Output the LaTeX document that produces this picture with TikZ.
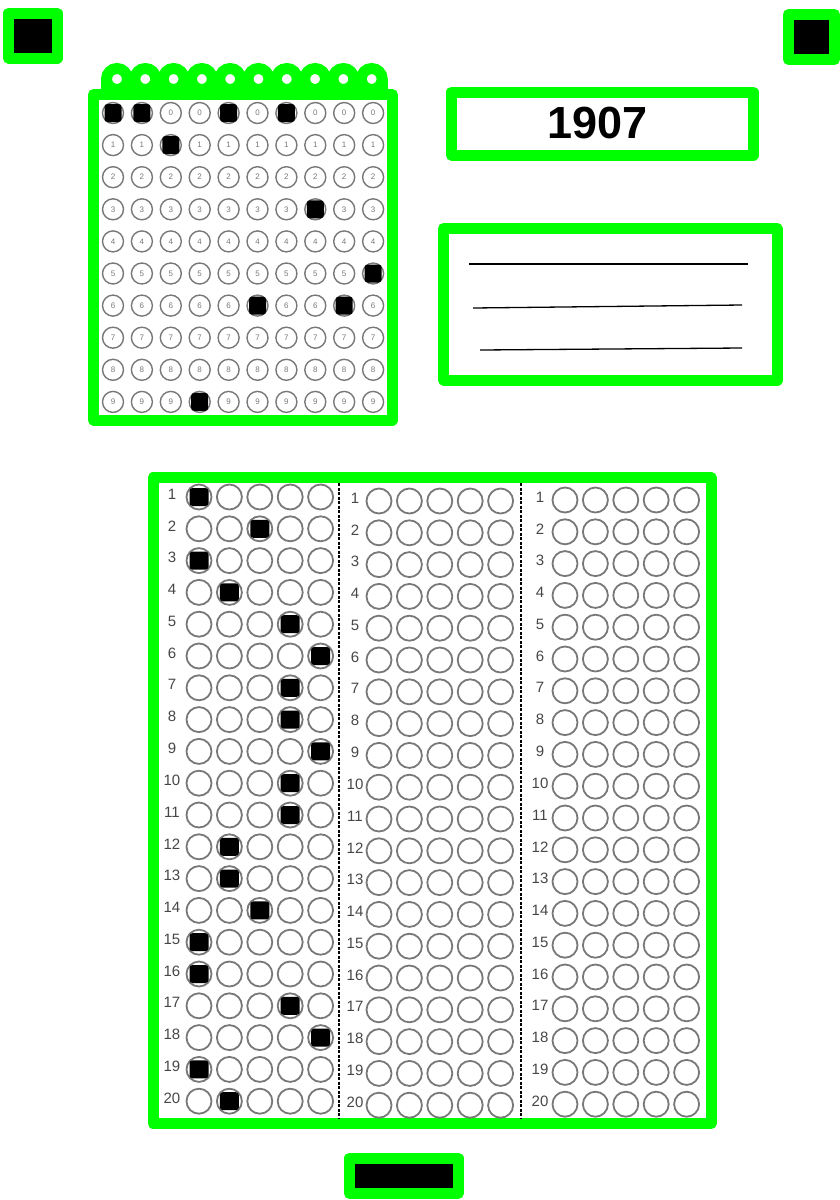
\documentclass[tikz,border=0pt]{standalone}
\usepackage{fontspec}
\setmainfont{Liberation Sans}
\usetikzlibrary{positioning}
\definecolor{scangreen}{RGB}{0,255,0}
\definecolor{bubblegray}{RGB}{120,120,120}
\definecolor{numgray}{RGB}{70,70,70}

\begin{document}
\begin{tikzpicture}[x=1pt, y=-1pt,
    greenframe/.style={draw=scangreen, line width=11pt, line join=round, inner sep=0pt},
    anchorbox/.style={greenframe, fill=black},
    ring/.style={circle, draw=scangreen, fill=white, line width=11pt, minimum size=21pt, inner sep=0pt},
    idbubble/.style={circle, draw=bubblegray, line width=1.4pt, minimum size=21pt, inner sep=0pt, text=bubblegray, font=\fontsize{8}{8}\selectfont},
    ansbubble/.style={circle, draw=bubblegray, line width=1.8pt, minimum size=25pt, inner sep=0pt},
    qnum/.style={text=numgray, font=\fontsize{15}{15}\selectfont, inner sep=0pt},
    blob/.style={fill=black, rounded corners=3pt, minimum width=19pt, minimum height=18pt, inner sep=0pt},
    divider/.style={dash pattern=on 3pt off 1.5pt, line width=1.6pt}]
        \useasboundingbox (0,0) rectangle (840,1200);

        % Corner marks
        \node[anchorbox, minimum width=48.5pt, minimum height=45pt] (markl) at (32.75,35.5) {};
        \node[anchorbox, minimum width=46pt, minimum height=45pt] (markr) at (811.5,37) {};
        \node[anchorbox, minimum width=108.5pt, minimum height=35.5pt] (markb) at (403.75,1175.75) {};

        % Student number
        \fill[scangreen] (101,79) rectangle (388,95);
        \foreach \i in {0,...,9}
            \node[ring] (ring\i) at ({117+28.3*\i},79) {};
        \node[greenframe, minimum width=298.5pt, minimum height=325.5pt] (idbox) at (242.75,257.25) {};
        \foreach \r in {0,...,9}
            \foreach \c in {0,...,9}
                \node[idbubble] (id-\r-\c) at ({113+28.9*\c},{113+32.1*\r}) {\r};
        \foreach \r/\c in {0/0,0/1,0/4,0/6,1/2,3/7,5/9,6/5,6/8,9/3}
            \node[blob, minimum width=17pt] (idfill-\r-\c) at (id-\r-\c) {};

        % Year
        \node[greenframe, minimum width=301.5pt, minimum height=63pt, font=\fontsize{45}{45}\selectfont\bfseries] (year) at (602.25,123.5) {\hspace*{-10pt}1907};

        % Name lines
        \node[greenframe, minimum width=333.5pt, minimum height=151.5pt] (namebox) at (610.25,304.25) {};
        \draw[line width=1.3pt] (469,264) -- (748,264);
        \draw[line width=1.3pt] (473,308) -- (742,305);
        \draw[line width=1.3pt] (480,350) -- (742,348);

        % Answer sheet
        \node[greenframe, minimum width=558pt, minimum height=646pt] (answers) at (432,800.5) {};
        \draw[divider] (339,483) -- (339,1118);
        \draw[divider] (521,483) -- (521,1118);
        \foreach \b/\nx/\bx/\by in {0/172/199/497, 1/355/379/501, 2/540/565/500}
            \foreach \q in {1,...,20} {
                \node[qnum] (num-\b-\q) at ({\nx},{\by+31.8*(\q-1)-3}) {\q};
                \foreach \c in {0,...,4}
                    \node[ansbubble] (q-\b-\q-\c) at ({\bx+30.4*\c},{\by+31.8*(\q-1)}) {};
            }
        \foreach \q/\c in {1/0,2/2,3/0,4/1,5/3,6/4,7/3,8/3,9/4,10/3,11/3,12/1,13/1,14/2,15/0,16/0,17/3,18/4,19/0,20/1}
            \node[blob] (fill-\q) at (q-0-\q-\c) {};
\end{tikzpicture}
\end{document}
